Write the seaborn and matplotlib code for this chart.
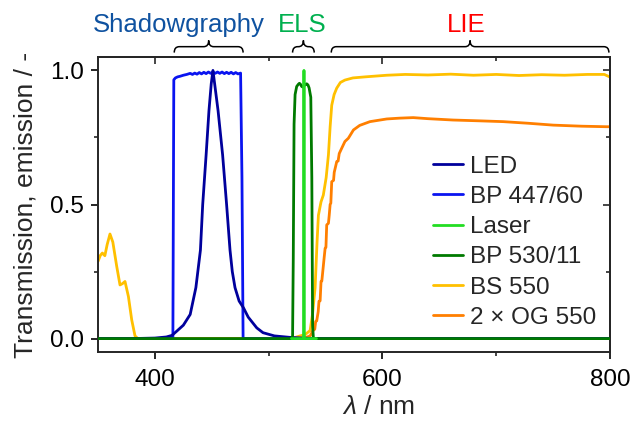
import numpy as np
import pandas as pd
import seaborn as sns
import matplotlib
matplotlib.use("Agg")
import matplotlib.pyplot as plt
from matplotlib.path import Path
from matplotlib.patches import PathPatch
import matplotlib.transforms as mtransforms

# ---------------- data ----------------
series_names = ["LED", "BP 447/60", "Laser", "BP 530/11", "BS 550", "2 × OG 550"]
series_colors = ["#00009C", "#0A14F0", "#22DD22", "#007A00", "#FFC000", "#FF7F00"]

led_nm = [350, 380, 400, 410, 415, 419, 425, 431, 436, 440, 442, 445, 447.5, 449.5, 451,
          452.5, 455.5, 459.5, 463, 466, 468, 470.4, 474, 477.8, 482, 489.5, 495, 505,
          520, 540, 600, 700, 800]
led_val = [0, 0, 0.002, 0.006, 0.012, 0.027, 0.05, 0.09, 0.19, 0.33, 0.5, 0.685, 0.85,
           0.95, 1.0, 0.95, 0.85, 0.685, 0.5, 0.33, 0.25, 0.19, 0.14, 0.115, 0.08, 0.04,
           0.022, 0.01, 0.004, 0.0, 0, 0, 0]

bp447_nm = [350, 400, 414, 415.8, 416.6, 418, 420, 422, 425, 428, 431, 433, 435, 437, 439,
            441, 443, 445, 447, 449, 451, 453, 455, 457, 459, 461, 463, 465, 467, 469,
            471, 473, 475.3, 476.5, 477.5, 480, 500, 600, 800]
bp447_val = [0, 0, 0, 0.005, 0.965, 0.972, 0.976, 0.978, 0.982, 0.985, 0.989, 0.985, 0.99,
             0.986, 0.992, 0.987, 0.993, 0.988, 0.994, 0.989, 0.995, 0.989, 0.994, 0.989,
             0.994, 0.988, 0.993, 0.988, 0.993, 0.987, 0.992, 0.987, 0.99, 0.6, 0.0, 0,
             0, 0, 0]

laser_nm = [520, 530.7, 531.0, 531.3, 542]
laser_val = [0, 0, 1.0, 0, 0]

bp530_nm = [350, 520, 521.0, 521.6, 522.3, 523.2, 524.6, 526, 527, 528, 529, 530, 531,
            532.3, 533.4, 534.5, 535.5, 537, 537.9, 538.6, 539.3, 800]
bp530_val = [0, 0, 0.01, 0.3, 0.8, 0.91, 0.94, 0.948, 0.952, 0.948, 0.94, 0.938, 0.942,
             0.948, 0.95, 0.946, 0.935, 0.9, 0.6, 0.05, 0, 0]

bs550_nm = [350, 352, 353.8, 356, 358, 360.5, 363, 366.4, 369.3, 371.5, 373.7, 376.7,
            379.6, 382.5, 385, 400, 500, 520, 527.6, 532, 536.4, 538.5, 540.8, 542.5,
            543.7, 546, 548, 550.5, 552.5, 554, 555.4, 557.5, 559.8, 563, 567, 574, 585,
            603.8, 620, 640, 660, 680, 700, 720, 740, 760, 780, 795, 800]
bs550_val = [0.288, 0.31, 0.319, 0.309, 0.35, 0.39, 0.36, 0.27, 0.2, 0.205, 0.213, 0.157,
             0.07, 0.01, 0.0, 0, 0, 0.0, 0.01, 0.015, 0.03, 0.09, 0.19, 0.36, 0.46, 0.51,
             0.535, 0.6, 0.685, 0.79, 0.87, 0.91, 0.934, 0.955, 0.964, 0.972, 0.976,
             0.982, 0.985, 0.983, 0.986, 0.982, 0.985, 0.981, 0.984, 0.982, 0.985, 0.985,
             0.975]

og550_nm = [350, 500, 530, 536.4, 539, 540.5, 541.3, 542.2, 543.5, 544.2, 545.2, 546.0,
            546.7, 548, 548.7, 549.6, 550.3, 551, 552.5, 553.2, 554, 554.6, 555.4, 557,
            557.6, 559.8, 561, 562, 564.2, 567, 570, 574.5, 580, 589, 603.8, 615, 627, 640,
            662, 685, 706, 728, 750, 775, 797, 800]
og550_val = [0, 0, 0, 0.01, 0.03, 0.035, 0.064, 0.066, 0.1, 0.139, 0.141, 0.213, 0.215,
             0.27, 0.3, 0.337, 0.34, 0.424, 0.43, 0.46, 0.5, 0.505, 0.585, 0.59, 0.62,
             0.66, 0.662, 0.69, 0.71, 0.735, 0.747, 0.778, 0.795, 0.809, 0.819, 0.822,
             0.824, 0.82, 0.815, 0.812, 0.809, 0.803, 0.796, 0.792, 0.79, 0.79]

# bracket annotations above the plot
region_names = ["Shadowgraphy", "ELS", "LIE"]
region_start = [417, 521, 555]
region_end = [477.5, 540, 799]
region_text_x = [421, 529.5, 673.5]
region_colors = ["#0F52A0", "#00B04F", "#FF0000"]

x_major = [400, 600, 800]
x_minor = [500, 700]
y_major = [0.0, 0.5, 1.0]
y_minor = [0.25, 0.75]

# ---------------- build long-form table ----------------
all_x = [led_nm, bp447_nm, laser_nm, bp530_nm, bs550_nm, og550_nm]
all_y = [led_val, bp447_val, laser_val, bp530_val, bs550_val, og550_val]
frames = []
for name, xs, ys in zip(series_names, all_x, all_y):
    frames.append(pd.DataFrame({"wl": xs, "val": ys, "series": name}))
df = pd.concat(frames, ignore_index=True)

# ---------------- styling ----------------
sns.set_style("ticks")
plt.rcParams["font.family"] = ["Liberation Sans", "DejaVu Sans"]
plt.rcParams["mathtext.fontset"] = "custom"
plt.rcParams["mathtext.rm"] = "Liberation Sans"
plt.rcParams["mathtext.it"] = "Liberation Sans:italic"
plt.rcParams["axes.linewidth"] = 1.4

FS = 17.5
LFS = 19

fig = plt.figure(figsize=(6.3, 4.21), dpi=100)
ax = fig.add_axes([0.1556, 0.1639, 0.8127, 0.7007])

palette = dict(zip(series_names, series_colors))
sns.lineplot(data=df, x="wl", y="val", hue="series", hue_order=series_names,
             palette=palette, estimator=None, errorbar=None, linewidth=2.0, ax=ax)

zorders = {"LED": 2.4, "BP 447/60": 2.3, "Laser": 2.9, "BP 530/11": 2.8,
           "BS 550": 2.1, "2 × OG 550": 2.2}
for line, name in zip(ax.lines, series_names):
    line.set_zorder(zorders[name])
    line.set_solid_joinstyle("round")

ax.set_xlim(350, 800)
ax.set_ylim(-0.05, 1.05)
ax.set_xticks(x_major)
ax.set_xticks(x_minor, minor=True)
ax.set_yticks(y_major)
ax.set_yticks(y_minor, minor=True)
ax.set_yticklabels([f"{v:.1f}" for v in y_major])
ax.tick_params(axis="both", which="major", direction="out", length=5, width=1.2,
               labelsize=FS, colors="black")
ax.tick_params(axis="both", which="minor", direction="out", length=3, width=1.2)
ax.tick_params(axis="x", pad=7)
ax.tick_params(axis="y", pad=5)

secx = ax.secondary_xaxis("top")
secx.set_xticks(x_major)
secx.set_xticks(x_minor, minor=True)
secx.tick_params(which="major", direction="in", length=5, width=1.2, labeltop=False)
secx.tick_params(which="minor", direction="in", length=3, width=1.2)
secx.spines["top"].set_linewidth(1.4)
secy = ax.secondary_yaxis("right")
secy.set_yticks(y_major)
secy.set_yticks(y_minor, minor=True)
secy.tick_params(which="major", direction="in", length=5, width=1.2, labelright=False)
secy.tick_params(which="minor", direction="in", length=3, width=1.2)
secy.spines["right"].set_linewidth(1.4)

ax.set_xlabel(r"$\mathit{\lambda}$ / nm", fontsize=LFS)
ax.set_ylabel("Transmission, emission / -", fontsize=LFS)
ax.xaxis.set_label_coords(0.547, -0.145)
ax.yaxis.set_label_coords(-0.118, 0.5)

sns.move_legend(ax, "upper left", bbox_to_anchor=(0.655, 0.666), frameon=False,
                title=None, fontsize=FS, handlelength=1.2, handletextpad=0.3,
                labelspacing=0.34, borderpad=0, borderaxespad=0)
for h in ax.get_legend().legend_handles:
    h.set_linewidth(2.0)

trans = mtransforms.blended_transform_factory(ax.transData, ax.transAxes)
y_end, y_line, y_tip = 1.015, 1.035, 1.056
r = 4.4
for name, x1, x2, xt, col in zip(region_names, region_start, region_end,
                                 region_text_x, region_colors):
    xc = 0.5 * (x1 + x2)
    verts = [(x1, y_end), (x1, y_line), (x1 + r, y_line),
             (xc - r, y_line),
             (xc, y_line), (xc, y_tip),
             (xc, y_line), (xc + r, y_line),
             (x2 - r, y_line),
             (x2, y_line), (x2, y_end)]
    codes = [Path.MOVETO, Path.CURVE3, Path.CURVE3,
             Path.LINETO,
             Path.CURVE3, Path.CURVE3,
             Path.CURVE3, Path.CURVE3,
             Path.LINETO,
             Path.CURVE3, Path.CURVE3]
    patch = PathPatch(Path(verts, codes), transform=trans, facecolor="none",
                      edgecolor="black", linewidth=1.1, clip_on=False)
    ax.add_patch(patch)
    ax.text(xt, 1.086, name, transform=trans, ha="center", va="baseline",
            color=col, fontsize=18.5, clip_on=False)

fig.savefig("out.png", dpi=100)
